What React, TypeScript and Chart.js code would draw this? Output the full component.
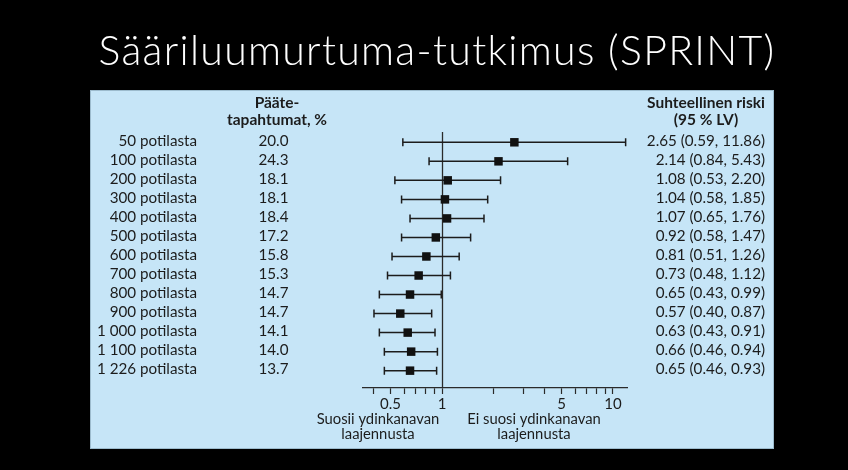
import React, { useEffect, useRef } from 'react';
import { Chart, registerables } from 'chart.js';

Chart.register(...registerables);

const W = 848;
const H = 470;

const titleText = 'Sääriluumurtuma-tutkimus (SPRINT)';
const rowLabels = [
  '50 potilasta',
  '100 potilasta',
  '200 potilasta',
  '300 potilasta',
  '400 potilasta',
  '500 potilasta',
  '600 potilasta',
  '700 potilasta',
  '800 potilasta',
  '900 potilasta',
  '1 000 potilasta',
  '1 100 potilasta',
  '1 226 potilasta',
];
const eventPct = ['20.0', '24.3', '18.1', '18.1', '18.4', '17.2', '15.8', '15.3', '14.7', '14.7', '14.1', '14.0', '13.7'];
const rr = [2.65, 2.14, 1.08, 1.04, 1.07, 0.92, 0.81, 0.73, 0.65, 0.57, 0.63, 0.66, 0.65];
const ciLow = [0.59, 0.84, 0.53, 0.58, 0.65, 0.58, 0.51, 0.48, 0.43, 0.4, 0.43, 0.46, 0.46];
const ciHigh = [11.86, 5.43, 2.2, 1.85, 1.76, 1.47, 1.26, 1.12, 0.99, 0.87, 0.91, 0.94, 0.93];
const xTickValues = [0.4, 0.5, 0.6, 0.7, 0.8, 0.9, 1, 2, 3, 4, 5, 6, 7, 8, 9, 10];
const xLabeledTicks = [0.5, 1, 5, 10];
const midHeader = ['Pääte-', 'tapahtumat, %'];
const rightHeader = ['Suhteellinen riski', '(95 % LV)'];
const leftCaption = ['Suosii ydinkanavan', 'laajennusta'];
const rightCaption = ['Ei suosi ydinkanavan', 'laajennusta'];

const FONT = 'Lato, "Open Sans", sans-serif';
const INK = '#1c1c1c';

const overlayPlugin = {
  id: 'overlay',
  beforeDraw(chart: any) {
    const ctx = chart.ctx;
    ctx.save();
    ctx.fillStyle = '#000';
    ctx.fillRect(0, 0, W, H);
    ctx.fillStyle = '#C6E5F7';
    ctx.fillRect(90, 90, 684, 359);
    ctx.strokeStyle = '#9CBBCD';
    ctx.lineWidth = 1;
    ctx.strokeRect(90.5, 90.5, 683, 358);
    ctx.fillStyle = '#ffffff';
    ctx.font = `300 41px ${FONT}`;
    try {
      (ctx as any).letterSpacing = '1.3px';
    } catch (e) {}
    ctx.textAlign = 'center';
    ctx.textBaseline = 'alphabetic';
    ctx.fillText(titleText, 437, 65);
    try {
      (ctx as any).letterSpacing = '0px';
    } catch (e) {}
    ctx.restore();
  },
  beforeDatasetsDraw(chart: any) {
    const ctx = chart.ctx;
    const xs = chart.scales.x;
    const ys = chart.scales.y;
    const area = chart.chartArea;
    ctx.save();
    ctx.strokeStyle = '#2a2a2a';
    ctx.lineWidth = 1.3;
    const x1 = Math.round(xs.getPixelForValue(1)) + 0.5;
    ctx.beginPath();
    ctx.moveTo(x1, area.top);
    ctx.lineTo(x1, area.bottom);
    ctx.stroke();
    ctx.strokeStyle = INK;
    ctx.lineWidth = 1.5;
    for (let i = 0; i < rr.length; i++) {
      const y = ys.getPixelForValue(i);
      const a = xs.getPixelForValue(ciLow[i]);
      const b = xs.getPixelForValue(ciHigh[i]);
      ctx.beginPath();
      ctx.moveTo(a, y);
      ctx.lineTo(b, y);
      ctx.moveTo(a, y - 4);
      ctx.lineTo(a, y + 4);
      ctx.moveTo(b, y - 4);
      ctx.lineTo(b, y + 4);
      ctx.stroke();
    }
    ctx.restore();
  },
  afterDraw(chart: any) {
    const ctx = chart.ctx;
    const ys = chart.scales.y;
    ctx.save();
    ctx.fillStyle = INK;
    ctx.textBaseline = 'alphabetic';
    ctx.font = `bold 15.5px ${FONT}`;
    ctx.textAlign = 'center';
    ctx.fillText(midHeader[0], 277, 107.5);
    ctx.fillText(midHeader[1], 277, 124.5);
    ctx.fillText(rightHeader[0], 706, 107.5);
    ctx.fillText(rightHeader[1], 706, 124.5);
    ctx.font = `15.2px ${FONT}`;
    for (let i = 0; i < rowLabels.length; i++) {
      const y = ys.getPixelForValue(i) + 3.8;
      ctx.textAlign = 'right';
      ctx.fillText(rowLabels[i], 197, y);
      ctx.textAlign = 'center';
      ctx.fillText(eventPct[i], 273.5, y);
      ctx.textAlign = 'right';
      ctx.fillText(`${rr[i].toFixed(2)} (${ciLow[i].toFixed(2)}, ${ciHigh[i].toFixed(2)})`, 765, y);
    }
    ctx.font = `14.8px ${FONT}`;
    ctx.textAlign = 'center';
    ctx.fillText(leftCaption[0], 378, 424.3);
    ctx.fillText(leftCaption[1], 378, 438.5);
    ctx.fillText(rightCaption[0], 534, 424.3);
    ctx.fillText(rightCaption[1], 534, 438.5);
    ctx.restore();
  },
};

export default function App() {
  const ref = useRef<HTMLCanvasElement | null>(null);

  useEffect(() => {
    if (!ref.current) return;
    const chart = new Chart(ref.current, {
      type: 'scatter',
      data: {
        datasets: [
          {
            data: rr.map((v, i) => ({ x: v, y: i })),
            pointStyle: 'rect',
            pointRadius: 6,
            pointHoverRadius: 6,
            backgroundColor: '#111111',
            borderColor: '#111111',
            borderWidth: 0,
          },
        ],
      },
      options: {
        responsive: false,
        animation: false,
        events: [],
        layout: { padding: { left: 363, right: 221, top: 132, bottom: 42 } },
        plugins: { legend: { display: false }, tooltip: { enabled: false } },
        scales: {
          x: {
            type: 'logarithmic',
            bounds: 'data',
            min: 0.345,
            max: 12.08,
            afterBuildTicks: (scale: any) => {
              scale.ticks = xTickValues.map((v) => ({ value: v }));
            },
            afterFit: (scale: any) => {
              scale.height = 40;
            },
            border: { display: true, color: '#2a2a2a', width: 1.3 },
            grid: {
              display: true,
              drawOnChartArea: false,
              drawTicks: true,
              tickLength: 6,
              tickColor: '#2a2a2a',
              tickWidth: 1.2,
            },
            ticks: {
              autoSkip: false,
              maxRotation: 0,
              padding: 1,
              color: INK,
              font: { family: FONT, size: 15 },
              callback: (_v: any, index: number, ticks: any[]) => {
                const val = ticks[index].value;
                return xLabeledTicks.includes(val) ? String(val) : '';
              },
            },
          },
          y: {
            type: 'linear',
            display: false,
            reverse: true,
            min: -0.541,
            max: 12.911,
          },
        },
      },
      plugins: [overlayPlugin],
    });
    return () => chart.destroy();
  }, []);

  return (
    <div style={{ position: 'fixed', left: 0, top: 0, width: W, height: H, background: '#000' }}>
      <canvas ref={ref} width={W} height={H} style={{ display: 'block', width: W, height: H }} />
    </div>
  );
}
